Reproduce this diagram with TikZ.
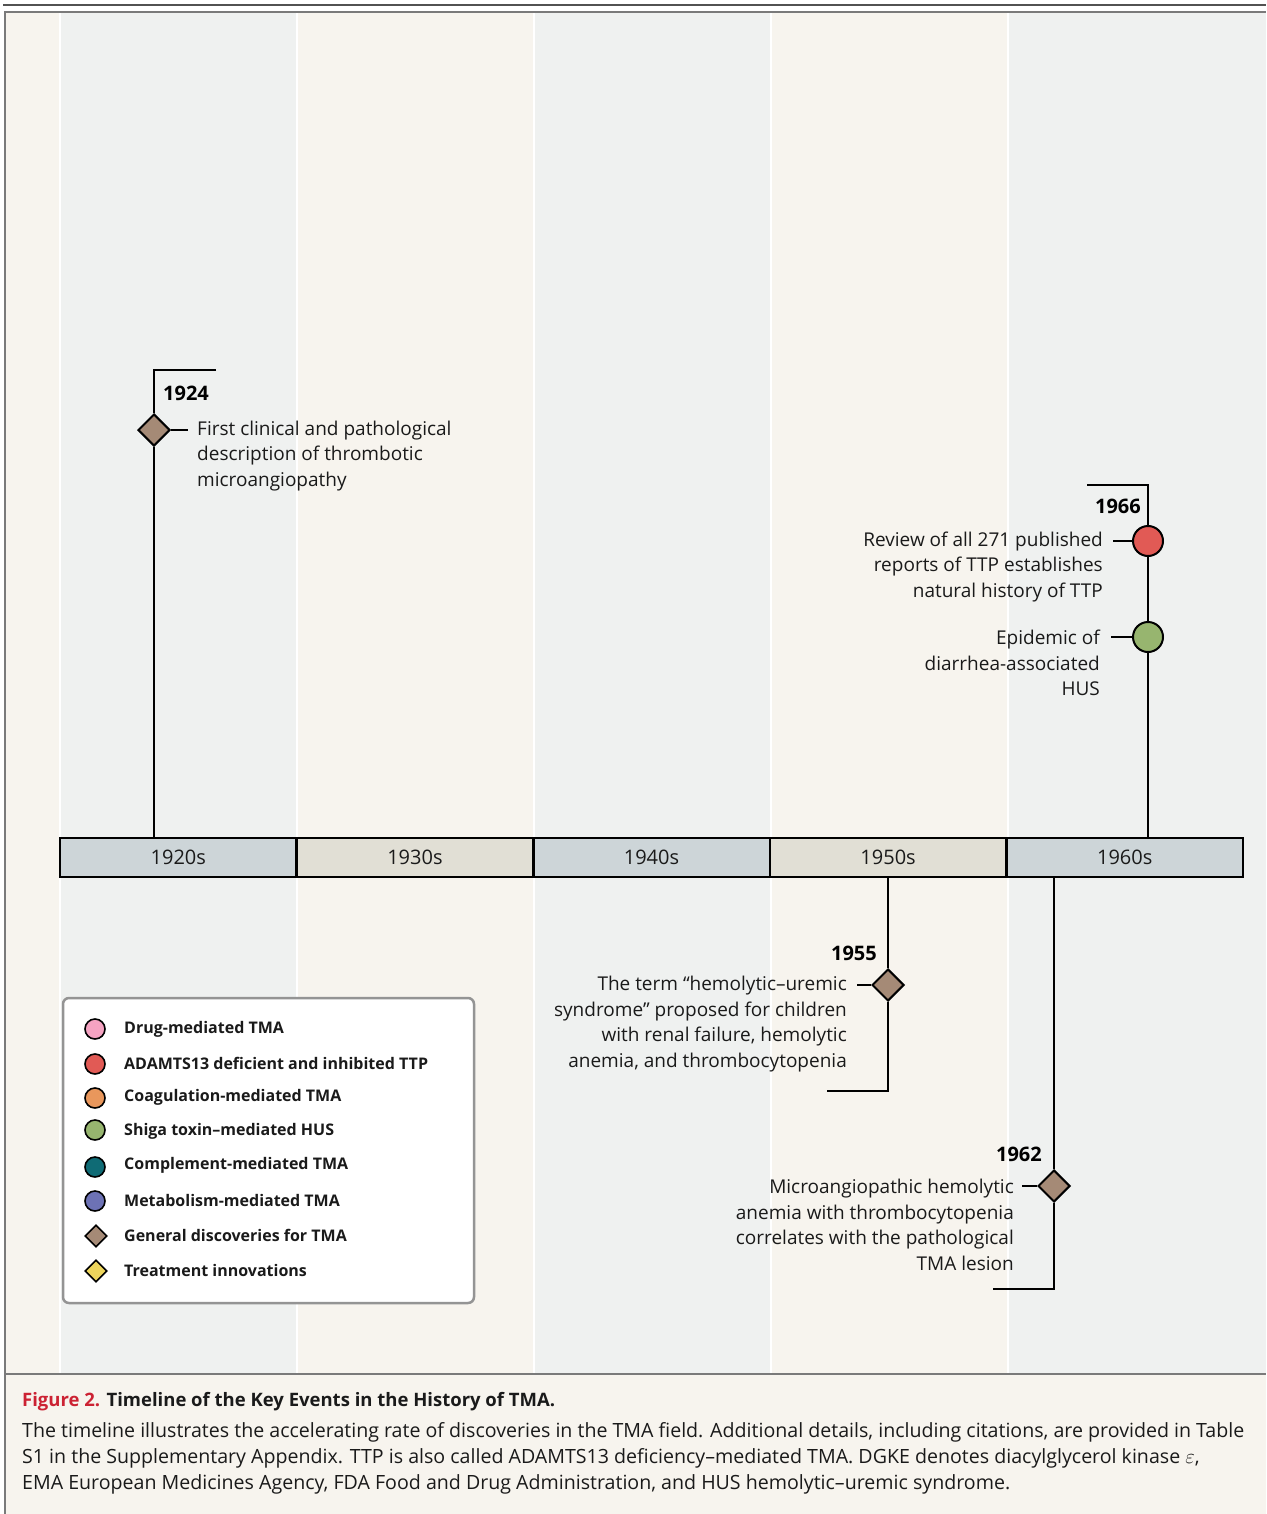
\documentclass[tikz,border=0pt]{standalone}
\usepackage{fontspec}
\setmainfont{Open Sans}
\usetikzlibrary{shapes.geometric}
\definecolor{bggray}{HTML}{EFF1F0}
\definecolor{bgcream}{HTML}{F7F4EE}
\definecolor{bargray}{HTML}{CDD5D8}
\definecolor{barbeige}{HTML}{E1DFD5}
\definecolor{gendisc}{HTML}{A58A76}
\definecolor{ttpred}{HTML}{E15A55}
\definecolor{shiga}{HTML}{97B56F}
\definecolor{drugpink}{HTML}{F5A3C2}
\definecolor{coag}{HTML}{E9975C}
\definecolor{compl}{HTML}{0F6B75}
\definecolor{metab}{HTML}{6D72B5}
\definecolor{treat}{HTML}{EDD55C}
\definecolor{figred}{HTML}{CC2233}
\definecolor{framegray}{HTML}{7A7A7A}
\definecolor{txt}{HTML}{1A1A1A}
\begin{document}
\begin{tikzpicture}[x=1pt,y=-1pt,
  stem/.style={line width=2pt, draw=black},
  seg/.style={draw=black, line width=2.6pt, minimum width=236.6pt, minimum height=39pt, inner sep=0pt, font=\fontsize{20}{24}\selectfont, text=txt},
  gdiam/.style={diamond, draw=black, line width=2pt, fill=gendisc, minimum width=32pt, minimum height=32pt, inner sep=0pt},
  evdot/.style={circle, draw=black, line width=2pt, minimum size=30pt, inner sep=0pt},
  evtext/.style={font=\fontsize{19}{25.5}\selectfont, inner sep=0pt, text=txt},
  year/.style={font=\bfseries\fontsize{20}{24}\selectfont, inner sep=0pt},
  legdot/.style={circle, draw=black, line width=1.6pt, minimum size=20pt, inner sep=0pt},
  legdiam/.style={diamond, draw=black, line width=1.6pt, minimum width=22pt, minimum height=22pt, inner sep=0pt},
  legtext/.style={font=\bfseries\fontsize{16}{20}\selectfont, anchor=west, inner sep=0pt, text=txt},
  captext/.style={font=\fontsize{19.6}{24}\selectfont, anchor=base west, inner sep=0pt, text=txt}
]
\useasboundingbox (0,0) rectangle (1266,1514);
\fill[white] (0,0) rectangle (1266,1514);
% background stripes
\fill[white] (5,12) rectangle (1266,1374);
\fill[bgcream] (6,12) rectangle (58.5,1374);
\fill[bggray] (60.5,12) rectangle (295.5,1374);
\fill[bgcream] (297.5,12) rectangle (532.5,1374);
\fill[bggray] (534.5,12) rectangle (769.5,1374);
\fill[bgcream] (771.5,12) rectangle (1006.5,1374);
\fill[bggray] (1008.5,12) rectangle (1266,1374);
% caption area
\fill[bgcream] (5,1374) rectangle (1266,1514);
% frame
\draw[line width=2.5pt, black!68] (3,5) -- (1266,5);
\draw[line width=2pt, framegray] (5,1514) -- (5,12) -- (1266,12);
\draw[line width=2pt, framegray] (5,1374) -- (1266,1374);

% decade bar
\node[seg, fill=bargray]  (s1) at (178.3,857.5) {1920s};
\node[seg, fill=barbeige] (s2) at (414.9,857.5) {1930s};
\node[seg, fill=bargray]  (s3) at (651.5,857.5) {1940s};
\node[seg, fill=barbeige] (s4) at (888.1,857.5) {1950s};
\node[seg, fill=bargray]  (s5) at (1124.7,857.5) {1960s};

% 1924
\node[gdiam] (d1924) at (154,430) {};
\coordinate (c24t) at (154,370);
\coordinate (c24r) at (216,370);
\coordinate (k24) at (188,430);
\draw[stem] (c24r) -- (c24t) -- (d1924.north);
\draw[stem] (d1924.south) -- (d1924.south |- s1.north);
\draw[stem] (d1924.east) -- (k24);
\node[year, anchor=base west] (y1924) at (163,400) {1924};
\node[evtext, anchor=west, align=left] (t1924) at (197,456) {First clinical and pathological\\description of thrombotic\\microangiopathy};

% 1966
\node[evdot, fill=ttpred] (r1966) at (1148,541) {};
\node[evdot, fill=shiga] (g1966) at (1148,637) {};
\coordinate (c66t) at (1148,485);
\coordinate (c66l) at (1087,485);
\coordinate (k66a) at (1113,541);
\coordinate (k66b) at (1111,637);
\draw[stem] (c66l) -- (c66t) -- (r1966.north);
\draw[stem] (r1966.south) -- (g1966.north);
\draw[stem] (g1966.south) -- (g1966.south |- s5.north);
\draw[stem] (r1966.west) -- (k66a);
\draw[stem] (g1966.west) -- (k66b);
\node[year, anchor=base east] (y1966) at (1141,513) {1966};
\node[evtext, anchor=east, align=right] (t1966a) at (1103,567) {Review of all 271 published\\reports of TTP establishes\\natural history of TTP};
\node[evtext, anchor=east, align=right] (t1966b) at (1100,663) {Epidemic of\\diarrhea-associated\\HUS};

% 1955
\node[gdiam] (d1955) at (888,985) {};
\coordinate (c55b) at (888,1091);
\coordinate (c55l) at (827,1091);
\coordinate (k55) at (857,985);
\draw[stem] (s4.south -| d1955) -- (d1955.north);
\draw[stem] (d1955.south) -- (c55b) -- (c55l);
\draw[stem] (d1955.west) -- (k55);
\node[year, anchor=base east] (y1955) at (877,960) {1955};
\node[evtext, anchor=east, align=right] (t1955) at (847,1024) {The term “hemolytic–uremic\\syndrome” proposed for children\\with renal failure, hemolytic\\anemia, and thrombocytopenia};

% 1962
\node[gdiam] (d1962) at (1054,1186) {};
\coordinate (c62b) at (1054,1289);
\coordinate (c62l) at (993,1289);
\coordinate (k62) at (1022,1186);
\draw[stem] (s5.south -| d1962) -- (d1962.north);
\draw[stem] (d1962.south) -- (c62b) -- (c62l);
\draw[stem] (d1962.west) -- (k62);
\node[year, anchor=base east] (y1962) at (1042,1161) {1962};
\node[evtext, anchor=east, align=right] (t1962) at (1014,1225) {Microangiopathic hemolytic\\anemia with thrombocytopenia\\correlates with the pathological\\TMA lesion};

% legend
\node[draw=black!42, line width=2.5pt, rounded corners=6pt, fill=white, minimum width=411pt, minimum height=305pt, inner sep=0pt] (legend) at (268.5,1150.5) {};
\node[legdot, fill=drugpink] (l1) at (95,1029) {};
\node[legtext] (lt1) at (124,1029) {Drug-mediated TMA};
\node[legdot, fill=ttpred] (l2) at (95,1064) {};
\node[legtext] (lt2) at (124,1063) {ADAMTS13 deficient and inhibited TTP};
\node[legdot, fill=coag] (l3) at (95,1098) {};
\node[legtext] (lt3) at (124,1097) {Coagulation-mediated TMA};
\node[legdot, fill=shiga] (l4) at (95,1130) {};
\node[legtext] (lt4) at (124,1131) {Shiga toxin–mediated HUS};
\node[legdot, fill=compl] (l5) at (95,1167) {};
\node[legtext] (lt5) at (124,1165) {Complement-mediated TMA};
\node[legdot, fill=metab] (l6) at (95,1201) {};
\node[legtext] (lt6) at (124,1200) {Metabolism-mediated TMA};
\node[legdiam, fill=gendisc] (l7) at (96,1236) {};
\node[legtext] (lt7) at (124,1235) {General discoveries for TMA};
\node[legdiam, fill=treat] (l8) at (96,1271) {};
\node[legtext] (lt8) at (124,1270) {Treatment innovations};

% caption
\node[captext, font=\bfseries\fontsize{18.5}{24}\selectfont] (cap0) at (22,1406) {\textcolor{figred}{Figure 2.} Timeline of the Key Events in the History of TMA.};
\node[captext] (cap1) at (22,1437) {The timeline illustrates the accelerating rate of discoveries in the TMA field. Additional details, including citations, are provided in Table};
\node[captext] (cap2) at (22,1463) {S1 in the Supplementary Appendix. TTP is also called ADAMTS13 deficiency–mediated TMA. DGKE denotes diacylglycerol kinase $\varepsilon$,};
\node[captext] (cap3) at (22,1489) {EMA European Medicines Agency, FDA Food and Drug Administration, and HUS hemolytic–uremic syndrome.};
\end{tikzpicture}
\end{document}
